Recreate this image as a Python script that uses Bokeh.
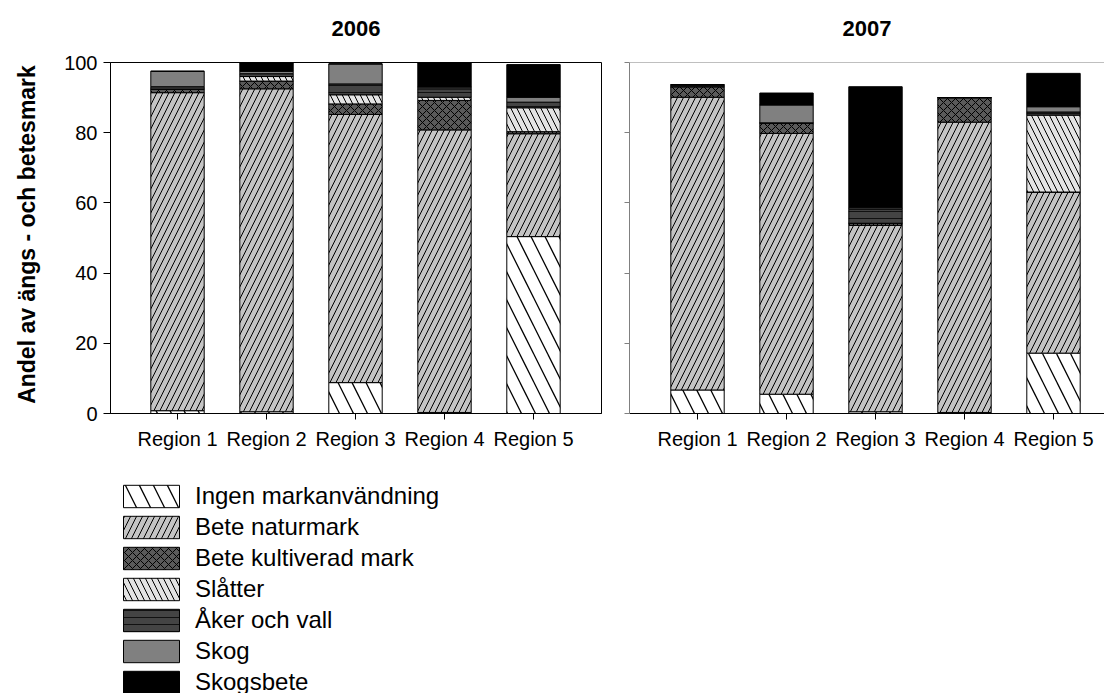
import math
from bokeh.plotting import figure
from bokeh.models import (ColumnDataSource, Range1d, FixedTicker, Span,
                          Legend, LegendItem, Label)
from bokeh.layouts import column, row
from bokeh.transform import stack
from bokeh.embed import file_html
from bokeh.resources import INLINE

FONT = "Liberation Sans"

regions = ["Region 1", "Region 2", "Region 3", "Region 4", "Region 5"]
categories = ["Ingen markanvändning", "Bete naturmark", "Bete kultiverad mark",
              "Slåtter", "Åker och vall", "Skog", "Skogsbete"]
titles = ["2006", "2007"]
y_label = "Andel av ängs - och betesmark"

# 2006 (percent)
ingen_2006 = [0.8, 0.5, 8.8, 0.3, 50.4]
naturmark_2006 = [90.6, 92.0, 76.4, 80.5, 29.3]
kult_2006 = [1.0, 2.2, 3.0, 8.4, 0.6]
slatter_2006 = [0.0, 1.3, 2.6, 0.9, 6.8]
aker_2006 = [0.7, 0.8, 3.1, 2.4, 1.6]
skog_2006 = [4.4, 0.7, 5.7, 0.5, 1.4]
skogsbete_2006 = [0.0, 2.4, 0.0, 6.9, 9.3]

# 2007 (percent)
ingen_2007 = [6.7, 5.5, 0.5, 0.3, 17.2]
naturmark_2007 = [83.4, 74.3, 53.1, 82.7, 45.9]
kult_2007 = [3.0, 3.0, 0.6, 7.0, 0.0]
slatter_2007 = [0.0, 0.0, 0.0, 0.0, 21.9]
aker_2007 = [0.6, 0.0, 4.0, 0.0, 0.9]
skog_2007 = [0.0, 5.1, 0.4, 0.0, 1.5]
skogsbete_2007 = [0.0, 3.4, 34.5, 0.0, 9.5]

y_ticks = [0, 20, 40, 60, 80, 100]

styles = [
    dict(fill_color="white", hatch_pattern="\\", hatch_scale=28, hatch_weight=1.3, hatch_color="black"),
    dict(fill_color="#c4c4c4", hatch_pattern="/", hatch_scale=12, hatch_weight=1, hatch_color="black"),
    dict(fill_color="#5a5a5a", hatch_pattern="x", hatch_scale=8, hatch_weight=1, hatch_color="black"),
    dict(fill_color="#e4e4e4", hatch_pattern="\\", hatch_scale=12, hatch_weight=1, hatch_color="black"),
    dict(fill_color="#444444", hatch_pattern="-", hatch_scale=7, hatch_weight=1, hatch_color="#111111"),
    dict(fill_color="#808080"),
    dict(fill_color="black"),
]

keys = ["c%d" % i for i in range(len(categories))]
xs = list(range(1, len(regions) + 1))

STRIP_H = 46     # height of the title strip above each plot, px
TITLE_Y = 28     # title centre from page top, px
PLOT_H = 470 - STRIP_H
FRAME_TOP, FRAME_BOT = 62, 413   # plot frame edges from page top, px
YLAB_W = 50      # width of the strip holding the y-axis label, px
YLAB_X = 26      # label centre from page left, px
YLAB_Y = 234     # label centre from page top, px


def make_source(series):
    data = dict(x=xs)
    for k, s in zip(keys, series):
        data[k] = s
    return ColumnDataSource(data)


def add_bars(p, src):
    rs = []
    for i, k in enumerate(keys):
        r = p.vbar(x="x", width=0.6, bottom=stack(*keys[:i]), top=stack(*keys[:i + 1]),
                   source=src, line_color="black", line_width=1, **styles[i])
        rs.append(r)
    return rs


def blank(width, height, x_range, y_range, **kw):
    f = figure(width=width, height=height, output_backend="svg", toolbar_location=None,
               title=None, x_range=x_range, y_range=y_range,
               x_axis_location=None, y_axis_location=None, outline_line_color=None,
               background_fill_color="white", border_fill_color="white", **kw)
    f.grid.visible = False
    return f


def make_strip(title, width, bl, br, x_start, x_end):
    s = blank(width, STRIP_H, Range1d(x_start, x_end), Range1d(0, STRIP_H),
              min_border_left=bl, min_border_right=br, min_border_top=0, min_border_bottom=0)
    s.add_layout(Label(x=(x_start + x_end) / 2, y=STRIP_H - TITLE_Y, text=title,
                       text_align="center", text_baseline="middle",
                       text_font=FONT, text_font_size="22px", text_font_style="bold",
                       text_color="black"))
    return s


def make_fig(src, width, bl, br, x_start, x_end, first):
    p = figure(width=width, height=PLOT_H, output_backend="svg", toolbar_location=None,
               title=None, x_range=Range1d(x_start, x_end), y_range=Range1d(0, 100),
               min_border_left=bl, min_border_right=br, min_border_top=FRAME_TOP - STRIP_H,
               min_border_bottom=57, background_fill_color="white",
               border_fill_color="white")
    add_bars(p, src)
    p.grid.visible = False

    xa = p.xaxis[0]
    xa.ticker = FixedTicker(ticks=xs)
    xa.major_label_overrides = {x: r for x, r in zip(xs, regions)}
    xa.major_label_text_font = FONT
    xa.major_label_text_font_size = "20px"
    xa.major_label_text_color = "black"
    xa.major_tick_out = 6
    xa.major_tick_in = 0
    xa.minor_tick_line_color = None
    xa.major_label_standoff = 8
    xa.axis_line_color = "black"

    ya = p.yaxis[0]
    ya.ticker = FixedTicker(ticks=y_ticks)
    ya.minor_tick_line_color = None
    ya.major_tick_in = 0
    if first:
        ya.major_tick_out = 7
        ya.major_label_standoff = 6
        ya.major_label_text_font = FONT
        ya.major_label_text_font_size = "20px"
        ya.major_label_text_color = "black"
        p.outline_line_color = "black"
    else:
        ya.major_tick_out = 5
        ya.major_label_standoff = 0
        ya.major_label_overrides = {t: "" for t in y_ticks}
        ya.axis_line_color = "#808080"
        ya.major_tick_line_color = "#808080"
        p.outline_line_color = None
        p.add_layout(Span(location=100, dimension="width", line_color="#808080", line_width=1))
    return p


src2006 = make_source([ingen_2006, naturmark_2006, kult_2006, slatter_2006,
                       aker_2006, skog_2006, skogsbete_2006])
src2007 = make_source([ingen_2007, naturmark_2007, kult_2007, slatter_2007,
                       aker_2007, skog_2007, skogsbete_2007])

r1 = (1 - 67 / 89, 5 + 68 / 89)
r2 = (1 - 68 / 89, 5 + 51 / 89)
t1 = make_strip(titles[0], 615, 110, 14, *r1)
t2 = make_strip(titles[1], 489, 14, 0, *r2)

# y-axis label strip (its frame lines up with the plot frames: FRAME_TOP..FRAME_BOT)
ys = blank(YLAB_W, PLOT_H, Range1d(0, YLAB_W), Range1d(0, FRAME_BOT - FRAME_TOP),
           min_border_left=0, min_border_right=0, min_border_top=FRAME_TOP - STRIP_H,
           min_border_bottom=57)
ys.add_layout(Label(x=YLAB_X, y=FRAME_BOT - YLAB_Y, text=y_label,
                    angle=math.pi / 2, text_align="center", text_baseline="middle",
                    text_font=FONT, text_font_size="23px", text_font_style="bold",
                    text_color="black"))

p1 = make_fig(src2006, 615 - YLAB_W, 110 - YLAB_W, 14, *r1, True)
p2 = make_fig(src2007, 489, 14, 0, *r2, False)

# legend panel: its bars lie outside both ranges (only the legend glyphs show)
leg = blank(1104, 223, Range1d(-2, -1), Range1d(-2, -1),
            min_border_left=116, min_border_top=12, min_border_right=0, min_border_bottom=0)
rs = add_bars(leg, src2006)
items = [LegendItem(label=name, renderers=[r]) for name, r in zip(categories, rs)]
legend = Legend(items=items, location="top_left", glyph_width=70, glyph_height=28,
                label_height=28, spacing=3, label_standoff=9, padding=0, margin=0,
                border_line_color=None, background_fill_alpha=0,
                label_text_font=FONT, label_text_font_size="24px",
                label_text_color="black")
leg.add_layout(legend)

layout = column(row(t1, t2), row(ys, p1, p2), leg)
open("out.html", "w").write(file_html(layout, INLINE))
